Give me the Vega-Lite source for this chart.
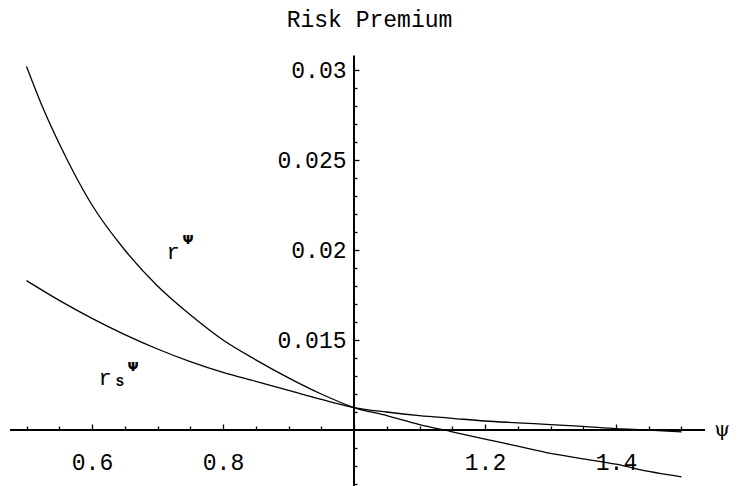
{
  "$schema": "https://vega.github.io/schema/vega-lite/v6.json",
  "width": 739,
  "height": 486,
  "autosize": "none",
  "padding": 0,
  "background": "white",
  "title": {"text": "Risk Premium", "font": "Liberation Mono", "fontSize": 23, "fontWeight": "normal", "color": "black", "anchor": "middle", "frame": "group", "offset": -32},
  "config": {
    "view": {"stroke": null},
    "axis": {"grid": false, "domain": false, "title": null, "labelFont": "Liberation Mono", "labelFontSize": 23, "labelColor": "black", "tickColor": "black", "tickWidth": 1.3}
  },
  "datasets": {
    "curves": [
      {"series": "r", "x": 0.5, "y": 0.0302},
      {"series": "r", "x": 0.525, "y": 0.0279},
      {"series": "r", "x": 0.55, "y": 0.0259},
      {"series": "r", "x": 0.575, "y": 0.0241},
      {"series": "r", "x": 0.6, "y": 0.0225},
      {"series": "r", "x": 0.65, "y": 0.0200},
      {"series": "r", "x": 0.7, "y": 0.0180},
      {"series": "r", "x": 0.75, "y": 0.0164},
      {"series": "r", "x": 0.8, "y": 0.0150},
      {"series": "r", "x": 0.85, "y": 0.0139},
      {"series": "r", "x": 0.9, "y": 0.0129},
      {"series": "r", "x": 0.95, "y": 0.0120},
      {"series": "r", "x": 1.0, "y": 0.01125},
      {"series": "r", "x": 1.05, "y": 0.0108},
      {"series": "r", "x": 1.1, "y": 0.0103},
      {"series": "r", "x": 1.15, "y": 0.0099},
      {"series": "r", "x": 1.2, "y": 0.0095},
      {"series": "r", "x": 1.25, "y": 0.0091},
      {"series": "r", "x": 1.3, "y": 0.0087},
      {"series": "r", "x": 1.35, "y": 0.0084},
      {"series": "r", "x": 1.4, "y": 0.0081},
      {"series": "r", "x": 1.45, "y": 0.0077},
      {"series": "r", "x": 1.5, "y": 0.0074},
      {"series": "rs", "x": 0.5, "y": 0.0183},
      {"series": "rs", "x": 0.55, "y": 0.0172},
      {"series": "rs", "x": 0.6, "y": 0.0162},
      {"series": "rs", "x": 0.65, "y": 0.0153},
      {"series": "rs", "x": 0.7, "y": 0.0145},
      {"series": "rs", "x": 0.75, "y": 0.0138},
      {"series": "rs", "x": 0.8, "y": 0.0132},
      {"series": "rs", "x": 0.85, "y": 0.0127},
      {"series": "rs", "x": 0.9, "y": 0.0122},
      {"series": "rs", "x": 0.95, "y": 0.0117},
      {"series": "rs", "x": 1.0, "y": 0.01125},
      {"series": "rs", "x": 1.05, "y": 0.0110},
      {"series": "rs", "x": 1.1, "y": 0.0108},
      {"series": "rs", "x": 1.15, "y": 0.01065},
      {"series": "rs", "x": 1.2, "y": 0.0105},
      {"series": "rs", "x": 1.25, "y": 0.0104},
      {"series": "rs", "x": 1.3, "y": 0.0103},
      {"series": "rs", "x": 1.35, "y": 0.0102},
      {"series": "rs", "x": 1.4, "y": 0.01008},
      {"series": "rs", "x": 1.45, "y": 0.0100},
      {"series": "rs", "x": 1.5, "y": 0.0099}
    ],
    "axes": [
      {"x": 0.4748, "x2": 1.5359, "y": 0.01, "y2": 0.01},
      {"x": 1.0, "x2": 1.0, "y": 0.0308, "y2": 0.00689}
    ],
    "bigLabels": [
      {"x": 0.7237, "y": 0.0199, "text": "r"},
      {"x": 0.6198, "y": 0.0129, "text": "r"}
    ],
    "smallLabels": [
      {"x": 0.7466, "y": 0.02056, "text": "Ψ"},
      {"x": 0.6626, "y": 0.0135, "text": "Ψ"}
    ],
    "subLabels": [
      {"x": 0.6427, "y": 0.01267, "text": "S"}
    ],
    "axisLabel": [
      {"x": 1.5618, "y": 0.0100, "text": "ψ"}
    ]
  },
  "layer": [
    {
      "data": {"name": "axes"},
      "mark": {"type": "rule", "color": "black", "strokeWidth": 2},
      "encoding": {
        "x": {"field": "x", "type": "quantitative", "scale": {"domain": [0.4595, 1.5878], "nice": false, "zero": false},
              "axis": {"orient": "bottom", "offset": -56, "values": [0.6, 0.8, 1.2, 1.4], "ticks": false, "labelPadding": 21, "format": ".1f"}},
        "x2": {"field": "x2"},
        "y": {"field": "y", "type": "quantitative", "scale": {"domain": [0.00689, 0.03389], "nice": false, "zero": false},
              "axis": {"orient": "left", "offset": -354, "values": [0.015, 0.02, 0.025, 0.03], "ticks": false, "labelPadding": 8, "labelExpr": "format(datum.value, '.3~f')"}},
        "y2": {"field": "y2"}
      }
    },
    {
      "data": {"name": "curves"},
      "mark": {"type": "line", "color": "black", "strokeWidth": 1.3, "interpolate": "monotone"},
      "encoding": {
        "x": {"field": "x", "type": "quantitative", "scale": {"domain": [0.4595, 1.5878], "nice": false, "zero": false},
              "axis": {"orient": "bottom", "offset": -56, "values": [0.6, 0.8, 1.0, 1.2, 1.4], "labels": false, "tickSize": -6}},
        "y": {"field": "y", "type": "quantitative", "scale": {"domain": [0.00689, 0.03389], "nice": false, "zero": false},
              "axis": {"orient": "left", "offset": -354, "values": [0.015, 0.02, 0.025, 0.03], "labels": false, "tickSize": -5}},
        "detail": {"field": "series"}
      }
    },
    {
      "data": {"name": "bigLabels"},
      "mark": {"type": "text", "font": "Liberation Mono", "fontSize": 22, "color": "black", "align": "center", "baseline": "middle"},
      "encoding": {
        "x": {"field": "x", "type": "quantitative", "scale": {"domain": [0.4595, 1.5878], "nice": false, "zero": false},
              "axis": {"orient": "bottom", "offset": -56, "values": [0.5, 0.55, 0.65, 0.7, 0.75, 0.85, 0.9, 0.95, 1.05, 1.1, 1.15, 1.25, 1.3, 1.35, 1.45, 1.5], "labels": false, "tickSize": -4}},
        "y": {"field": "y", "type": "quantitative", "scale": {"domain": [0.00689, 0.03389], "nice": false, "zero": false},
              "axis": {"orient": "left", "offset": -354, "values": [0.007, 0.008, 0.009, 0.011, 0.012, 0.013, 0.014, 0.016, 0.017, 0.018, 0.019, 0.021, 0.022, 0.023, 0.024, 0.026, 0.027, 0.028, 0.029], "labels": false, "tickSize": -3}},
        "text": {"field": "text"}
      }
    },
    {
      "data": {"name": "smallLabels"},
      "mark": {"type": "text", "font": "DejaVu Sans", "fontSize": 13, "fontWeight": "bold", "color": "black", "align": "center", "baseline": "middle"},
      "encoding": {
        "x": {"field": "x", "type": "quantitative", "scale": {"domain": [0.4595, 1.5878], "nice": false, "zero": false}, "axis": null},
        "y": {"field": "y", "type": "quantitative", "scale": {"domain": [0.00689, 0.03389], "nice": false, "zero": false}, "axis": null},
        "text": {"field": "text"}
      }
    },
    {
      "data": {"name": "subLabels"},
      "mark": {"type": "text", "font": "Liberation Mono", "fontSize": 13, "fontWeight": "bold", "color": "black", "align": "center", "baseline": "middle"},
      "encoding": {
        "x": {"field": "x", "type": "quantitative", "scale": {"domain": [0.4595, 1.5878], "nice": false, "zero": false}, "axis": null},
        "y": {"field": "y", "type": "quantitative", "scale": {"domain": [0.00689, 0.03389], "nice": false, "zero": false}, "axis": null},
        "text": {"field": "text"}
      }
    },
    {
      "data": {"name": "axisLabel"},
      "mark": {"type": "text", "font": "DejaVu Serif", "fontSize": 20, "color": "black", "align": "center", "baseline": "middle"},
      "encoding": {
        "x": {"field": "x", "type": "quantitative", "scale": {"domain": [0.4595, 1.5878], "nice": false, "zero": false}, "axis": null},
        "y": {"field": "y", "type": "quantitative", "scale": {"domain": [0.00689, 0.03389], "nice": false, "zero": false}, "axis": null},
        "text": {"field": "text"}
      }
    }
  ],
  "resolve": {"axis": {"x": "independent", "y": "independent"}}
}
